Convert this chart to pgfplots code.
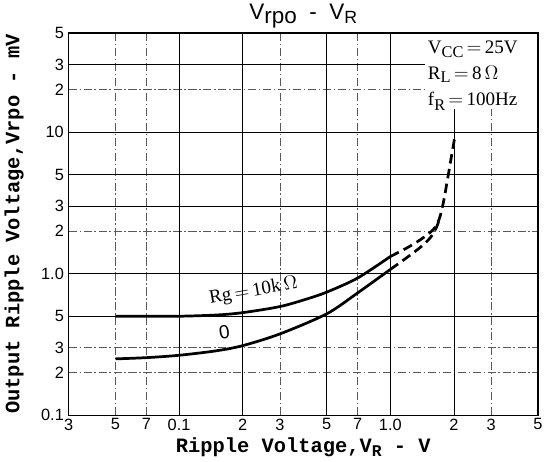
\documentclass[border=0pt]{standalone}
\usepackage{pgfplots}
\pgfplotsset{compat=1.18}
\usepackage{fontspec}
\setmainfont{Liberation Sans}
\setmonofont{Liberation Mono}
\newfontfamily\serifann{Liberation Serif}
\begin{document}
\begin{tikzpicture}
\begin{axis}[
  xmode=log, ymode=log,
  scale only axis, width=345pt, height=281pt,
  xmin=0.03, xmax=5, ymin=0.1, ymax=50,
  xtick={0.03,0.05,0.07,0.1,0.2,0.3,0.5,0.7,1,2,3,5},
  xticklabels={3,5,7,\raisebox{-1.4ex}{0.1},2,3,5,7,\raisebox{-1.4ex}{1.0},2,3,5},
  ytick={0.1,0.2,0.3,0.5,1,2,3,5,10,20,30,50},
  yticklabels={0.1,2,3,5,1.0,2,3,5,10,2,3,5},
  minor xtick={}, minor ytick={},
  major tick length=0pt,
  tick label style={font=\fontsize{12}{14}\selectfont},
  xticklabel style={yshift=1pt},
  yticklabel style={xshift=0pt},
  grid=major,
  major grid style={black!65, line width=0.5pt, dash pattern=on 6pt off 2pt on 1pt off 2pt},
  extra x ticks={0.1,0.2,0.5,1,2},
  extra x tick labels={},
  extra y ticks={0.5,1,3,5,10,30},
  extra y tick labels={},
  extra tick style={grid=major, major grid style={black, line width=0.5pt, solid}},
  axis line style={black, line width=0.9pt},
  title={V\raisebox{-0.3ex}{rpo}\ \ -\ \ V\raisebox{-0.3ex}{\fontsize{13}{15}\selectfont R}},
  title style={font=\fontsize{16.5}{18}\selectfont, yshift=-6pt},
  xlabel={\ttfamily\bfseries Ripple Voltage,V\raisebox{-0.4ex}{\fontsize{12}{14}\selectfont R} - V},
  ylabel={\ttfamily\bfseries Output Ripple Voltage,Vrpo - mV},
  xlabel style={font=\fontsize{15}{17}\selectfont, yshift=2pt},
  ylabel style={font=\fontsize{15}{17}\selectfont, yshift=6pt},
]
% annotation background
\fill[white] (rel axis cs:0.76,0.80) rectangle (rel axis cs:0.997,0.997);
\node[anchor=north west, align=left, inner sep=0pt, font=\serifann\fontsize{14}{19}\selectfont]
  at (rel axis cs:0.765,0.98)
  {V\raisebox{-0.4ex}{\fontsize{12}{13}\selectfont CC}$\,=\,$25V\\
   R\raisebox{-0.4ex}{\fontsize{12}{13}\selectfont L}$\,=\,$8\,$\Omega$\\
   f\raisebox{-0.6ex}{\fontsize{12}{13}\selectfont R}$\,=\,$100Hz};
% Rg = 10k curve
\addplot[black, line width=2pt, smooth] coordinates {
 (0.05,0.50) (0.07,0.50) (0.1,0.50) (0.15,0.51) (0.2,0.53) (0.3,0.585)
 (0.4,0.66) (0.5,0.74) (0.7,0.93) (1.0,1.32)};
\addplot[black, line width=2pt, smooth, dash pattern=on 7pt off 4pt] coordinates {
 (1.0,1.32) (1.2,1.52) (1.4,1.75) (1.6,2.05) (1.7,2.4) (1.75,2.8) (1.8,3.4)
 (1.85,4.3) (1.9,5.4) (1.95,6.8) (2.02,9.2)};
% Rg = 0 curve
\addplot[black, line width=2pt, smooth] coordinates {
 (0.05,0.25) (0.07,0.255) (0.1,0.265) (0.15,0.285) (0.2,0.31) (0.3,0.375)
 (0.5,0.52) (0.7,0.73) (1.0,1.07)};
\addplot[black, line width=2pt, smooth, dash pattern=on 7pt off 4pt] coordinates {
 (1.0,1.07) (1.2,1.3) (1.4,1.55) (1.55,1.8) (1.65,2.1) (1.72,2.5)};
\node[rotate=10, font=\serifann\fontsize{14}{16}\selectfont] at (axis cs:0.225,0.75) {Rg$\,=\,$10k\,$\Omega$};
\node[rotate=9, font=\fontsize{14}{16}\selectfont] at (axis cs:0.164,0.385) {0};
\end{axis}
\end{tikzpicture}
\end{document}
